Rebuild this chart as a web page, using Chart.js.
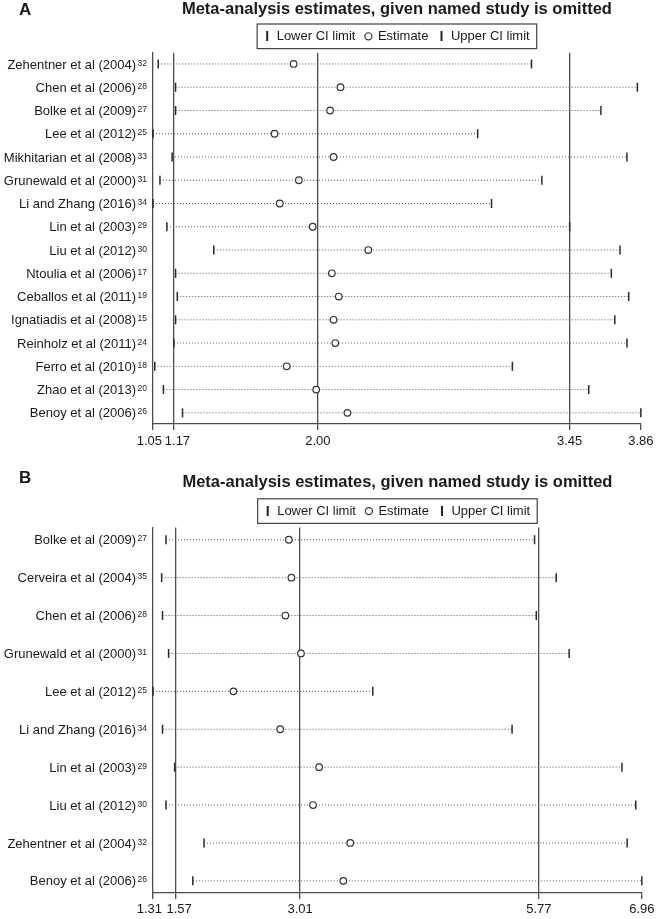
<!DOCTYPE html>
<html>
<head>
<meta charset="utf-8">
<title>Meta-analysis estimates, given named study is omitted</title>
<script src="https://cdn.jsdelivr.net/npm/chart.js@4.4.1/dist/chart.umd.min.js"></script>
<style>
  body { margin: 0; background: #fff; }
  #wrap { position: relative; width: 658px; height: 919px; }
  canvas { position: absolute; left: 0; }
  #panelA { top: 0; }
  #panelB { top: 462px; }
</style>
</head>
<body>
<div id="wrap">
  <canvas id="panelA" width="658" height="452"></canvas>
  <canvas id="panelB" width="658" height="457"></canvas>
</div>
<script>
// panel A - omitted study, lower CI / estimate / upper CI
const studiesA = ['Zehentner et al (2004)', 'Chen et al (2006)', 'Bolke et al (2009)', 'Lee et al (2012)',
  'Mikhitarian et al (2008)', 'Grunewald et al (2000)', 'Li and Zhang (2016)', 'Lin et al (2003)',
  'Liu et al (2012)', 'Ntoulia et al (2006)', 'Ceballos et al (2011)', 'Ignatiadis et al (2008)',
  'Reinholz et al (2011)', 'Ferro et al (2010)', 'Zhao et al (2013)', 'Benoy et al (2006)']
const refsA = ['32', '28', '27', '25', '33', '31', '34', '29', '30', '17', '19', '15', '24', '18', '20', '26']
const lowerA = [1.08, 1.18, 1.18, 1.05, 1.16, 1.09, 1.05, 1.13, 1.40, 1.18, 1.19, 1.18, 1.17, 1.06, 1.11, 1.22]
const estA = [1.86, 2.13, 2.07, 1.75, 2.09, 1.89, 1.78, 1.97, 2.29, 2.08, 2.12, 2.09, 2.10, 1.82, 1.99, 2.17]
const upperA = [3.23, 3.84, 3.63, 2.92, 3.78, 3.29, 3.00, 3.45, 3.74, 3.69, 3.79, 3.71, 3.78, 3.12, 3.56, 3.86]
const ticksA = [1.05, 1.17, 2.00, 3.45, 3.86]
const tickLabelsA = ['1.05', '1.17', '2.00', '3.45', '3.86']
const overallA = [1.17, 2.00, 3.45]

// panel B
const studiesB = ['Bolke et al (2009)', 'Cerveira et al (2004)', 'Chen et al (2006)', 'Grunewald et al (2000)',
  'Lee et al (2012)', 'Li and Zhang (2016)', 'Lin et al (2003)', 'Liu et al (2012)',
  'Zehentner et al (2004)', 'Benoy et al (2006)']
const refsB = ['27', '35', '28', '31', '25', '34', '29', '30', '32', '26']
const lowerB = [1.46, 1.41, 1.42, 1.49, 1.31, 1.42, 1.56, 1.46, 1.90, 1.77]
const estB = [2.88, 2.91, 2.84, 3.02, 2.24, 2.78, 3.23, 3.16, 3.59, 3.51]
const upperB = [5.72, 5.97, 5.74, 6.12, 3.85, 5.46, 6.73, 6.89, 6.79, 6.96]
const ticksB = [1.31, 1.57, 3.01, 5.77, 6.96]
const tickLabelsB = ['1.31', '1.57', '3.01', '5.77', '6.96']
const overallB = [1.57, 3.01, 5.77]

const FONT = '"Liberation Sans", Arial, Helvetica, sans-serif'
const INK = '#1a1a1a'
const LINE = '#4d4d4d'

// little "|" glyph for the legend (the built in line style comes out too short)
const barIcon = document.createElement('canvas')
barIcon.width = 4
barIcon.height = 10
const bctx = barIcon.getContext('2d')
bctx.fillStyle = '#222'
bctx.fillRect(1, 0, 2, 10)

// study names on the left, with the reference number as a small superscript
const studyLabels = {
    id: 'studyLabels',
    afterDraw(chart, args, opts){
        const ctx = chart.ctx
        const yScale = chart.scales.y
        const right = chart.chartArea.left - 6
        ctx.save()
        ctx.fillStyle = INK
        ctx.textAlign = 'right'
        ctx.textBaseline = 'alphabetic'
        opts.names.forEach((name, i) => {
            const py = yScale.getPixelForValue(i)
            ctx.font = '8.5px ' + FONT
            const supW = ctx.measureText(opts.refs[i]).width
            ctx.fillText(opts.refs[i], right, py + 1.6)
            ctx.font = '13px ' + FONT
            ctx.fillText(name, right - supW - 1.5, py + 4.6)
        })
        // panel letter
        ctx.textAlign = 'left'
        ctx.font = 'bold 17px ' + FONT
        ctx.fillText(opts.letter, 19, opts.letterY)
        ctx.restore()
    }
}

// the frame around the legend
const legendFrame = {
    id: 'legendFrame',
    afterDraw(chart){
        const boxes = chart.legend.legendHitBoxes
        if(!boxes || !boxes.length) return
        const first = boxes[0]
        const last = boxes[boxes.length - 1]
        const mid = first.top + first.height / 2
        const ctx = chart.ctx
        ctx.save()
        ctx.strokeStyle = '#444'
        ctx.lineWidth = 1.2
        ctx.strokeRect(first.left - 7, mid - 12.3, last.left + last.width - first.left + 14, 24.6)
        ctx.restore()
    }
}

function makePanel(id, p){
    const rows = p.names.length
    const ciLines = p.names.map((n, i) => ({
        data: [{x: p.lower[i], y: i}, {x: p.upper[i], y: i}],
        showLine: true,
        borderColor: '#555',
        borderWidth: 1,
        borderDash: [1, 2],
        pointRadius: 0
    }))
    const tickStyle = {
        pointStyle: 'line',
        pointRotation: 90,
        pointRadius: 4.5,
        pointBorderWidth: 1.5,
        pointBorderColor: '#2a2a2a',
        clip: false
    }
    new Chart(document.getElementById(id), {
        type: 'scatter',
        data: {
            datasets: [
                Object.assign({label: 'Lower CI limit', data: p.lower.map((v, i) => ({x: v, y: i}))}, tickStyle),
                {
                    label: 'Estimate',
                    data: p.est.map((v, i) => ({x: v, y: i})),
                    pointStyle: 'circle',
                    pointRadius: 3.3,
                    pointBorderWidth: 1.2,
                    pointBorderColor: '#333',
                    pointBackgroundColor: '#fff',
                    clip: false
                },
                Object.assign({label: 'Upper CI limit', data: p.upper.map((v, i) => ({x: v, y: i}))}, tickStyle),
                ...ciLines
            ]
        },
        options: {
            responsive: false,
            animation: false,
            events: [],
            layout: {padding: {top: p.padTop, right: 12, bottom: 0, left: 0}},
            scales: {
                x: {
                    type: 'linear',
                    min: p.ticks[0],
                    max: p.ticks[p.ticks.length - 1],
                    afterBuildTicks: scale => { scale.ticks = p.ticks.map(v => ({value: v})) },
                    border: {display: true, color: LINE, width: 1.3},
                    grid: {
                        color: c => (c.tick && p.overall.includes(c.tick.value)) ? LINE : 'rgba(0,0,0,0)',
                        lineWidth: 1.3,
                        tickColor: LINE,
                        tickLength: 6
                    },
                    ticks: {
                        autoSkip: false,
                        maxRotation: 0,
                        padding: p.tickPad,
                        color: INK,
                        font: {family: FONT, size: 13, lineHeight: 1},
                        // first two labels sit close together, push them apart a bit like the original
                        callback: (v, i) => i === 0 ? p.tickLabels[i] + '  ' : (i === 1 ? '  ' + p.tickLabels[i] : p.tickLabels[i])
                    }
                },
                y: {
                    type: 'linear',
                    reverse: true,
                    min: -p.pad,
                    max: rows - 1 + p.pad,
                    afterFit: scale => { scale.width = 153 },
                    border: {display: true, color: LINE, width: 1.3},
                    grid: {display: false},
                    ticks: {display: false}
                }
            },
            plugins: {
                title: {
                    display: true,
                    fullSize: false,
                    text: 'Meta-analysis estimates, given named study is omitted',
                    color: INK,
                    font: {family: FONT, size: 16.5, weight: 'bold'},
                    padding: {top: 0, bottom: p.titleGap}
                },
                legend: {
                    display: true,
                    fullSize: false,
                    labels: {
                        usePointStyle: true,
                        boxHeight: 5,
                        boxWidth: 6,
                        padding: 10,
                        color: INK,
                        font: {family: FONT, size: 13},
                        generateLabels: () => [
                            {text: 'Lower CI limit', pointStyle: barIcon, fontColor: INK},
                            {text: 'Estimate', pointStyle: 'circle', rotation: 0, strokeStyle: '#333', fillStyle: '#fff', lineWidth: 1.2, fontColor: INK},
                            {text: 'Upper CI limit', pointStyle: barIcon, fontColor: INK}
                        ]
                    }
                },
                tooltip: {enabled: false},
                studyLabels: {names: p.names, refs: p.refs, letter: p.letter, letterY: p.letterY}
            }
        },
        plugins: [studyLabels, legendFrame]
    })
}

makePanel('panelA', {
    names: studiesA, refs: refsA, lower: lowerA, est: estA, upper: upperA,
    ticks: ticksA, tickLabels: tickLabelsA, overall: overallA,
    letter: 'A', letterY: 14.5, padTop: 0, titleGap: 0, tickPad: 4.5, pad: 0.48
})
makePanel('panelB', {
    names: studiesB, refs: refsB, lower: lowerB, est: estB, upper: upperB,
    ticks: ticksB, tickLabels: tickLabelsB, overall: overallB,
    letter: 'B', letterY: 21.3, padTop: 10.8, titleGap: 2, tickPad: 3.5, pad: 0.32
})
</script>
</body>
</html>
